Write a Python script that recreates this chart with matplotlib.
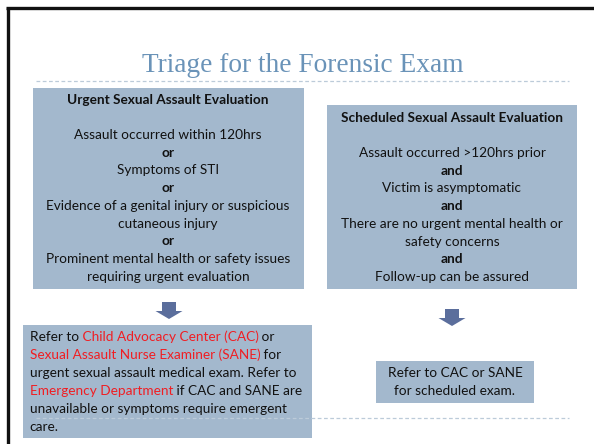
import matplotlib.pyplot as plt
from matplotlib.patches import Rectangle, Polygon

# slide text
title = "Triage for the Forensic Exam"

urgent_head = "Urgent Sexual Assault Evaluation"
urgent_lines = ["Assault occurred within 120hrs", "or", "Symptoms of STI", "or",
                "Evidence of a genital injury or suspicious", "cutaneous injury", "or",
                "Prominent mental health or safety issues", "requiring urgent evaluation"]
urgent_bold = [False, True, False, True, False, False, True, False, False]

sched_head = "Scheduled Sexual Assault Evaluation"
sched_lines = ["Assault occurred >120hrs prior", "and", "Victim is asymptomatic", "and",
               "There are no urgent mental health or", "safety concerns", "and",
               "Follow-up can be assured"]
sched_bold = [False, True, False, True, False, False, True, False]

# each line is a list of (text, is_red) pieces
refer_urgent = [
    [("Refer to", False), (" Child Advocacy Center (CAC)", True), (" or", False)],
    [("Sexual Assault Nurse Examiner (SANE)", True), (" for", False)],
    [("urgent sexual assault medical exam. Refer to", False)],
    [("Emergency Department", True), (" if CAC and SANE are", False)],
    [("unavailable or symptoms require emergent", False)],
    [("care.", False)],
]
refer_sched = ["Refer to CAC or SANE", "for scheduled exam."]

BOX = "#a3b8cd"
RED = "#f01e23"
INK = "#111111"
ARROW = "#5b6e9c"
FONT = "Lato"
FS = 9.8

fig = plt.figure(figsize=(5.94, 4.44), dpi=100)
ax = fig.add_axes([0, 0, 1, 1])
ax.set_xlim(0, 594)
ax.set_ylim(444, 0)
ax.axis("off")

# slide frame (top and left edges)
ax.plot([6, 594], [8, 8], color="#111111", lw=2.4, solid_capstyle="butt")
ax.plot([7.5, 7.5], [8, 444], color="#111111", lw=2.4, solid_capstyle="butt")

# title + dashed rules
ax.text(303, 72, title, fontsize=19.7, family="Liberation Serif", color="#6a93b8",
        ha="center", va="baseline")
for y in (81, 418):
    ax.plot([36, 569], [y, y], color="#bccbd9", lw=0.9, ls=(0, (3, 2)))

# top boxes
ax.add_patch(Rectangle((33, 88), 271, 201, color=BOX, lw=0))
ax.add_patch(Rectangle((327, 105), 250, 184, color=BOX, lw=0))

ax.text(168, 100, urgent_head, fontsize=FS, family=FONT, weight="bold", color=INK,
        ha="center", va="center")
for i, (s, b) in enumerate(zip(urgent_lines, urgent_bold)):
    ax.text(168, 135 + i * 17.7, s, fontsize=FS, family=FONT, color=INK,
            weight="bold" if b else "normal", ha="center", va="center")

ax.text(452, 118, sched_head, fontsize=FS, family=FONT, weight="bold", color=INK,
        ha="center", va="center")
for i, (s, b) in enumerate(zip(sched_lines, sched_bold)):
    ax.text(452, 153 + i * 17.7, s, fontsize=FS, family=FONT, color=INK,
            weight="bold" if b else "normal", ha="center", va="center")


# block arrows
def down_arrow(xc, y0):
    pts = [(xc - 7, y0), (xc + 7, y0), (xc + 7, y0 + 9), (xc + 13.5, y0 + 9),
           (xc, y0 + 17), (xc - 13.5, y0 + 9), (xc - 7, y0 + 9)]
    ax.add_patch(Polygon(pts, closed=True, color=ARROW, lw=0))


down_arrow(169, 302)
down_arrow(452, 309)

# bottom boxes
ax.add_patch(Rectangle((23, 325), 289, 113, color=BOX, lw=0))
ax.add_patch(Rectangle((376, 361), 158, 42, color=BOX, lw=0))

fig.canvas.draw()
renderer = fig.canvas.get_renderer()
inv = ax.transData.inverted()
for i, pieces in enumerate(refer_urgent):
    x = 29.5
    y = 337 + i * 18
    for s, red in pieces:
        t = ax.text(x, y, s, fontsize=FS, family=FONT, color=RED if red else INK,
                    ha="left", va="center")
        bb = t.get_window_extent(renderer)
        x = inv.transform((bb.x1, bb.y0))[0]

for i, s in enumerate(refer_sched):
    ax.text(455, 373 + i * 18, s, fontsize=FS, family=FONT, color=INK,
            ha="center", va="center")

fig.savefig("out.png", dpi=100)
